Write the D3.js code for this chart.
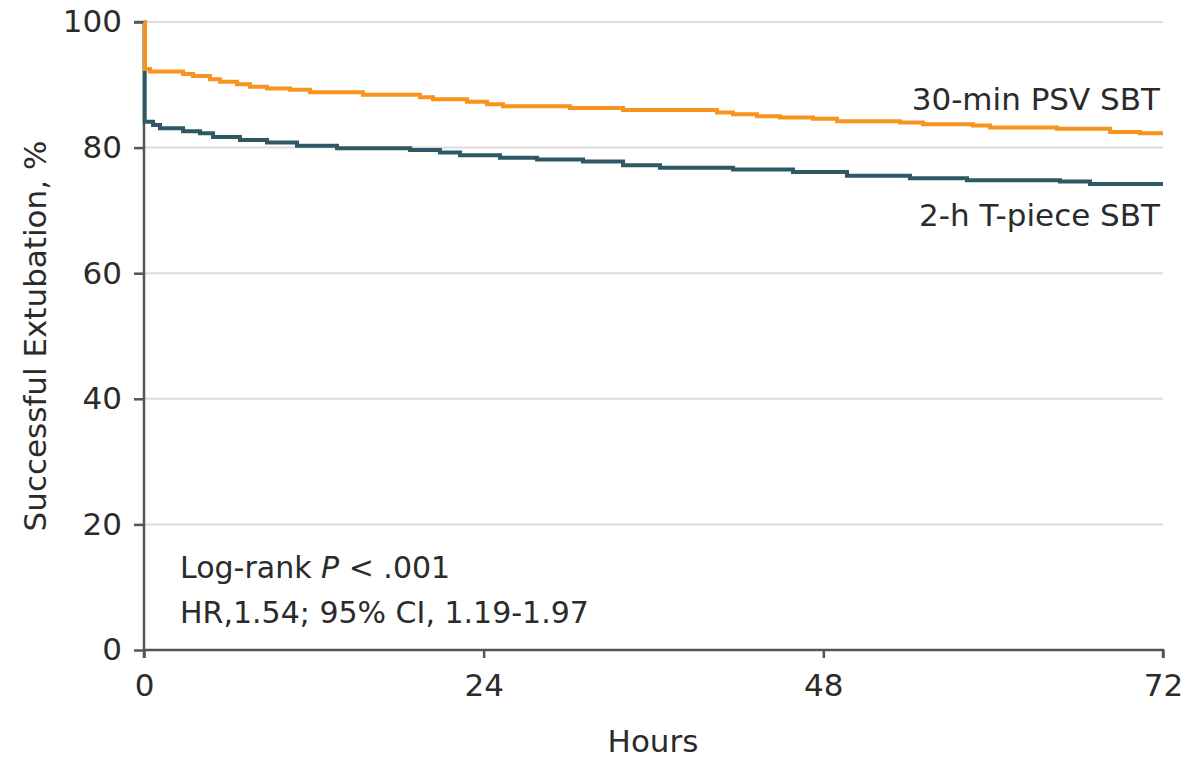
<!DOCTYPE html>
<html>
<head>
<meta charset="utf-8">
<script src="https://cdn.jsdelivr.net/npm/d3@7"></script>
<style>
  body { margin: 0; background: #fff; }
  text { font-family: "DejaVu Sans", sans-serif; fill: #2b2b2b; }
</style>
</head>
<body>
<svg id="chart" width="1187" height="759"></svg>
<script>
// Kaplan-Meier steps: hours, % successfully extubated
const psvHours = [0, 0.07, 0.42, 2.76, 3.46, 4.66, 5.37, 6.57, 7.49, 8.69, 10.32, 11.73, 15.47, 19.5, 20.42, 22.82, 24.24, 25.37, 30.1, 33.85, 40.49, 41.62, 43.31, 44.94, 47.27, 48.97, 53.42, 55.04, 58.58, 59.78, 64.51, 68.26, 70.38, 72];
const psvPct   = [100, 92.5, 92.1, 91.7, 91.4, 90.9, 90.5, 90.1, 89.7, 89.4, 89.2, 88.8, 88.4, 88.0, 87.7, 87.3, 86.9, 86.6, 86.3, 86.0, 85.6, 85.3, 85.0, 84.8, 84.6, 84.2, 84.0, 83.7, 83.5, 83.2, 83.0, 82.5, 82.3, 82.3];
const tpHours  = [0, 0.05, 0.64, 1.13, 2.76, 3.96, 4.88, 6.78, 8.69, 10.81, 13.64, 18.8, 20.91, 22.33, 25.15, 27.77, 31.02, 33.85, 36.46, 41.62, 45.86, 49.67, 54.12, 58.15, 64.72, 66.84, 72];
const tpPct    = [100, 84.1, 83.6, 83.1, 82.6, 82.3, 81.7, 81.2, 80.8, 80.3, 79.9, 79.6, 79.2, 78.8, 78.4, 78.1, 77.8, 77.2, 76.8, 76.5, 76.1, 75.5, 75.1, 74.8, 74.6, 74.2, 74.2];
const xTicks = [0, 24, 48, 72];
const yTicks = [0, 20, 40, 60, 80, 100];

const svg = d3.select("#chart");
const x = d3.scaleLinear().domain([0, 72]).range([144, 1163]);
const y = d3.scaleLinear().domain([0, 100]).range([650, 22]);

// gridlines
svg.append("g")
  .selectAll("line")
  .data(yTicks.filter(d => d > 0))
  .join("line")
  .attr("x1", x(0)).attr("x2", x(72))
  .attr("y1", d => y(d)).attr("y2", d => y(d))
  .attr("stroke", "#dcdcdc").attr("stroke-width", 2);

// y axis
const yAxis = svg.append("g")
  .attr("transform", `translate(${x(0)},0)`)
  .call(d3.axisLeft(y).tickValues(yTicks).tickSize(10).tickPadding(12));
// x axis
const xAxis = svg.append("g")
  .attr("transform", `translate(0,${y(0)})`)
  .call(d3.axisBottom(x).tickValues(xTicks).tickSize(8).tickPadding(16));

[yAxis, xAxis].forEach(a => {
  a.select(".domain").attr("stroke", "#555").attr("stroke-width", 2.5);
  a.selectAll(".tick line").attr("stroke", "#555").attr("stroke-width", 2.5);
  a.selectAll(".tick text")
    .attr("font-family", "'DejaVu Sans', sans-serif")
    .attr("font-size", 31).attr("fill", "#2b2b2b");
});
yAxis.select(".domain").attr("d", `M-10,${y(100)}H0V${y(0) + 8}`);
xAxis.select(".domain").attr("d", `M${x(0)},0H${x(72)}V8`);

// survival curves
const line = d3.line().curve(d3.curveStepAfter)
  .x(d => x(d[0])).y(d => y(d[1]));

svg.append("path")
  .datum(d3.zip(tpHours, tpPct))
  .attr("d", line)
  .attr("fill", "none").attr("stroke", "#2d5864").attr("stroke-width", 4);

svg.append("path")
  .datum(d3.zip(psvHours, psvPct))
  .attr("d", line)
  .attr("fill", "none").attr("stroke", "#f7941d").attr("stroke-width", 4);

// series labels
svg.append("text").attr("x", 1160).attr("y", 110).attr("text-anchor", "end")
  .attr("font-size", 31).text("30-min PSV SBT");
svg.append("text").attr("x", 1160).attr("y", 226).attr("text-anchor", "end")
  .attr("font-size", 31).text("2-h T-piece SBT");

// statistics
const stat = svg.append("text").attr("x", 180).attr("y", 578).attr("font-size", 30);
stat.append("tspan").text("Log-rank ");
stat.append("tspan").attr("font-style", "italic").text("P");
stat.append("tspan").text(" < .001");
svg.append("text").attr("x", 180).attr("y", 623).attr("font-size", 30)
  .text("HR,1.54; 95% CI, 1.19-1.97");

// axis titles
svg.append("text").attr("x", 653).attr("y", 752).attr("text-anchor", "middle")
  .attr("font-size", 31).text("Hours");
svg.append("text")
  .attr("transform", `translate(46,${y(50)}) rotate(-90)`)
  .attr("text-anchor", "middle").attr("font-size", 31)
  .text("Successful Extubation, %");
</script>
</body>
</html>
